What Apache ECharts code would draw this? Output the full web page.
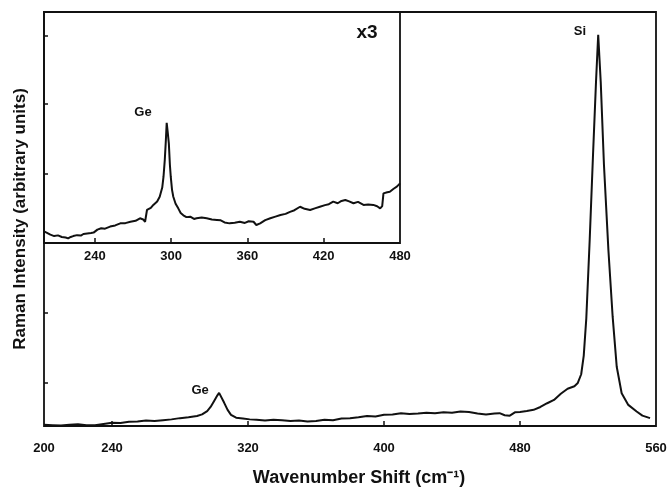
<!DOCTYPE html>
<html>
<head>
<meta charset="utf-8">
<title>Raman spectrum</title>
<script src="https://cdn.jsdelivr.net/npm/echarts@6/dist/echarts.min.js"></script>
<style>
  html, body { margin: 0; padding: 0; background: #fff; }
  #chart { width: 669px; height: 490px; }
</style>
</head>
<body>
<div id="chart"></div>
<script>
// main spectrum, wavenumber (cm-1) and intensity (arbitrary units, 0-100 scale)
var mainShift = [200, 205, 210, 215, 220, 225, 230, 235, 240, 245, 250, 255, 260, 265, 270, 275, 280, 285, 290, 293,
  296, 298, 300, 302, 303, 304, 306, 308, 310, 313, 317, 321, 325, 330, 335, 340, 345, 350, 355, 360,
  365, 370, 375, 380, 385, 390, 395, 400, 405, 410, 415, 420, 425, 430, 435, 440, 445, 450, 455, 460,
  465, 468, 471, 474, 477, 480, 484, 488, 492, 496, 500, 504, 508, 512, 514, 516, 517.5, 519, 521, 523,
  524.7, 526, 527.5, 529.4, 532, 534.5, 536.9, 539.8, 543.7, 548.6, 552, 556.5];
var mainIntensity = [0.3, 0.2, 0.1, 0.3, 0.4, 0.2, 0.2, 0.5, 0.8, 0.7, 1.0, 1.1, 1.3, 1.2, 1.4, 1.6, 1.9, 2.1, 2.4, 2.8,
  3.6, 4.6, 6.0, 7.4, 8.0, 7.6, 5.6, 3.9, 2.7, 2.0, 1.8, 1.6, 1.5, 1.3, 1.5, 1.4, 1.2, 1.3, 1.1, 1.2,
  1.5, 1.4, 1.8, 1.9, 2.1, 2.4, 2.3, 2.7, 2.8, 3.1, 2.9, 3.0, 3.2, 3.1, 3.3, 3.2, 3.5, 3.4, 3.0, 2.8,
  3.0, 3.1, 2.6, 2.5, 3.3, 3.4, 3.6, 3.9, 4.6, 5.5, 6.3, 7.8, 9.0, 9.6, 10.4, 12.5, 17, 26, 45, 66,
  83, 94.5, 83, 63, 42.5, 26.4, 14.3, 7.9, 5.1, 3.5, 2.5, 1.9];

// inset (x3) spectrum
var insetShift = [200, 202, 205, 208, 211, 214, 217, 219, 221, 223, 226, 229, 231, 234, 237, 239, 242, 245, 248, 252,
  256, 260, 264, 268, 272, 275.5, 278, 279.5, 281, 284, 286, 289, 291, 293, 294, 295, 295.8, 296.5, 297.3, 298.2,
  299, 299.7, 300.7, 301.7, 303.5, 305.6, 307.5, 309.6, 312, 315, 318, 320, 324, 328, 332, 336, 339, 342, 346, 350,
  354, 358, 361, 364.8, 367, 370, 374, 378, 382, 386, 390, 393.5, 397, 401.4, 405, 409.3, 413, 417, 421, 424,
  427.5, 431, 434, 437, 440, 443.4, 447, 451.3, 455, 459, 462, 464.4, 466, 467, 470, 472, 475, 477.5, 480];
var insetIntensity = [5.0, 4.5, 3.6, 3.0, 3.3, 2.6, 2.4, 2.0, 2.6, 3.0, 3.4, 3.2, 3.9, 4.1, 4.3, 4.5, 5.8, 6.4, 6.2, 7.1,
  7.6, 8.5, 8.6, 9.2, 9.6, 10.7, 10.2, 9.2, 14.3, 15.2, 16.5, 18, 20, 24, 28.7, 36, 44, 52, 48, 43,
  34, 28.7, 23, 20, 17, 15, 13, 12, 11.2, 11.4, 10.4, 10.7, 11.0, 10.7, 10.2, 10.0, 9.8, 8.9, 8.5, 8.8,
  9.2, 8.7, 9.4, 9.2, 7.8, 8.5, 9.9, 10.7, 11.4, 12.1, 12.6, 13.5, 14.2, 15.7, 14.8, 14.3, 15.0, 15.7, 16.4, 16.8,
  17.9, 17.2, 18.2, 18.6, 18.0, 17.2, 17.8, 16.5, 16.7, 16.5, 15.9, 15.0, 16, 21.5, 22.0, 22.2, 23.5, 24.4, 25.8];

var mainXLabels = [200, 240, 320, 400, 480, 560];
var mainXTicks = [240, 320, 400, 480];
var mainYTicks = [10.4, 27.3, 44.2, 60.9, 77.8, 94.2];
var insetXLabels = [240, 300, 360, 420, 480];
var insetXTicks = [240, 300, 360, 420];

function zip(xs, ys) {
  return xs.map(function (x, i) { return [x, ys[i]]; });
}

var ink = '#111';
var font = '"Liberation Sans", Arial, sans-serif';

var chart = echarts.init(document.getElementById('chart'));
chart.setOption({
  backgroundColor: '#fff',
  animation: false,
  grid: [
    { left: 44, top: 12, right: 13, height: 414, show: true, borderColor: ink, borderWidth: 1.8,
      backgroundColor: 'transparent', containLabel: false, outerBoundsMode: 'none' },
    { left: 44, top: 12, width: 356, height: 231, show: true, borderColor: ink, borderWidth: 1.8,
      backgroundColor: 'transparent', containLabel: false, outerBoundsMode: 'none' }
  ],
  xAxis: [
    {
      gridIndex: 0, type: 'value', min: 200, max: 560,
      name: 'Wavenumber Shift (cm\u207B\u00B9)', nameLocation: 'middle', nameGap: 43,
      nameTextStyle: { fontFamily: font, fontSize: 18, fontWeight: 'bold', color: ink, padding: [0, 0, 0, 18] },
      axisLine: { show: false },
      splitLine: { show: false },
      axisTick: { show: true, inside: true, length: 5, customValues: mainXTicks, lineStyle: { color: ink, width: 1.5 } },
      axisLabel: { customValues: mainXLabels, margin: 16, fontFamily: font, fontSize: 13, fontWeight: 'bold', color: ink }
    },
    {
      gridIndex: 1, type: 'value', min: 200, max: 480,
      axisLine: { show: false },
      splitLine: { show: false },
      axisTick: { show: true, inside: true, length: 5, customValues: insetXTicks, lineStyle: { color: ink, width: 1.5 } },
      axisLabel: { customValues: insetXLabels, margin: 7, fontFamily: font, fontSize: 13, fontWeight: 'bold', color: ink }
    }
  ],
  yAxis: [
    {
      gridIndex: 0, type: 'value', min: 0, max: 100,
      name: 'Raman Intensity (arbitrary units)', nameLocation: 'middle', nameGap: 15,
      nameTextStyle: { fontFamily: font, fontSize: 17, fontWeight: 'bold', color: ink },
      axisLine: { show: false },
      splitLine: { show: false },
      axisTick: { show: true, inside: true, length: 4, customValues: mainYTicks, lineStyle: { color: ink, width: 1.5 } },
      axisLabel: { show: false }
    },
    {
      gridIndex: 1, type: 'value', min: 0, max: 100,
      axisLine: { show: false },
      splitLine: { show: false },
      axisTick: { show: false },
      axisLabel: { show: false }
    }
  ],
  series: [
    {
      type: 'line', xAxisIndex: 0, yAxisIndex: 0,
      data: zip(mainShift, mainIntensity),
      showSymbol: false, smooth: false,
      lineStyle: { color: ink, width: 2 },
      markPoint: {
        symbol: 'circle', symbolSize: 0,
        label: { show: true, position: 'inside', fontFamily: font, fontSize: 13, fontWeight: 'bold', color: ink,
          formatter: function (p) { return p.name; } },
        data: [
          { name: 'Si', coord: [515.3, 95.2] },
          { name: 'Ge', coord: [291.8, 8.5] }
        ]
      }
    },
    {
      type: 'line', xAxisIndex: 1, yAxisIndex: 1,
      data: zip(insetShift, insetIntensity),
      showSymbol: false, smooth: false,
      lineStyle: { color: ink, width: 2 },
      markPoint: {
        symbol: 'circle', symbolSize: 0,
        label: { show: true, position: 'inside', fontFamily: font, fontWeight: 'bold', color: ink,
          formatter: function (p) { return p.name; } },
        data: [
          { name: 'Ge', coord: [277.9, 56.7], label: { fontSize: 13 } },
          { name: 'x3', coord: [454, 90.9], label: { fontSize: 19 } }
        ]
      }
    }
  ]
});
</script>
</body>
</html>
